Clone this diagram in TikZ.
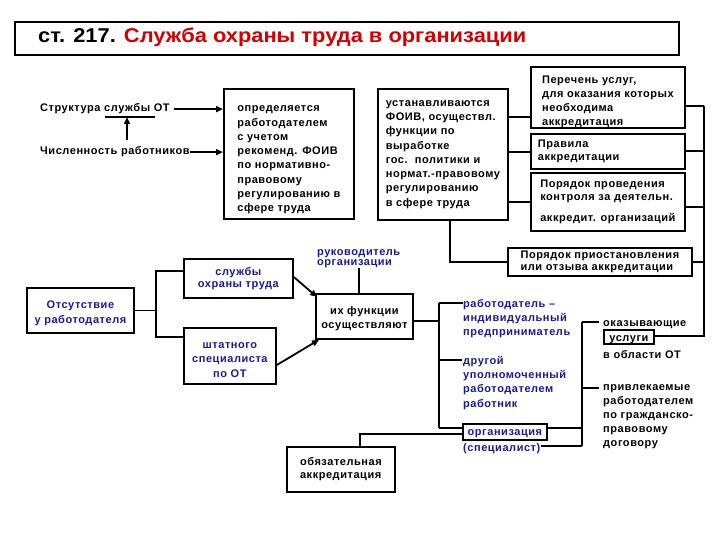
\documentclass[tikz,border=0pt]{standalone}
\usepackage{fontspec}
\setmainfont{Liberation Sans}
\newfontfamily\bodyfont{Liberation Sans}[LetterSpace=5]
\usetikzlibrary{arrows.meta,calc}
\definecolor{navy}{RGB}{25,25,150}
\definecolor{tred}{RGB}{210,0,0}
\newcommand{\pushdown}[1]{\rule{0pt}{#1}}
\tikzset{
  ln/.style={line width=1.8pt},
  arr/.style={line width=1.8pt,-{Triangle[length=7pt,width=6pt]}},
  txt/.style={font=\bodyfont\bfseries\fontsize{11}{14.3}\selectfont, inner sep=0pt, align=left},
  btxt/.style={txt, text=navy},
  box/.style={draw, line width=1.8pt, inner sep=0pt, anchor=north west,
    font=\bodyfont\bfseries\fontsize{11}{14.3}\selectfont, align=left},
}
\begin{document}
\begin{tikzpicture}[x=1pt,y=-1pt]
\useasboundingbox (0,0) rectangle (720,540);

% title
\node[draw, line width=2pt, inner sep=0pt, minimum width=664, minimum height=33, anchor=north west] (titlebox) at (14,21) {};
\node[inner sep=0pt, anchor=base west, font=\fontsize{20}{20}\selectfont\bfseries] (title) at (38,43)
  {\resizebox{488pt}{\height}{ст. 217. \textcolor{tred}{Служба охраны труда в организации}}};

% left texts
\node[txt, anchor=base west] (str) at (40,112) {Структура службы ОТ};
\node[txt, anchor=base west] (chis) at (40,155) {Численность работников};
\coordinate (ulL) at (105,117);
\coordinate (ulR) at (155,117);
\coordinate (upA) at (127,140);
\coordinate (upB) at (127,117);
\draw[ln] (ulL) -- (ulR);
\draw[arr] (upA) -- (upB);

% boxes top
\node[box, minimum width=130, minimum height=130] (b1) at (223,88)
  {\pushdown{18pt}определяется\\работодателем\\с учетом\\рекоменд. ФОИВ\\по нормативно-\\правовому\\регулированию в\\сфере труда};
\node[box, minimum width=130, minimum height=131] (b2) at (377,88)
  {устанавливаются\\ФОИВ, осуществл.\\функции по\\выработке\\гос.\ \ политики и\\нормат.-правовому\\регулированию\\в сфере труда};
\node[box, minimum width=154, minimum height=61, font=\bodyfont\bfseries\fontsize{11}{14}\selectfont] (b3) at (530,66)
  {\pushdown{16pt}Перечень услуг,\\для оказания которых\\необходима\\аккредитация};
\node[box, minimum width=154, minimum height=35, inner xsep=7pt, text width=140pt, font=\bodyfont\bfseries\fontsize{11}{12.5}\selectfont] (b4) at (530,133)
  {Правила\\аккредитации};
\node[box, minimum width=154, minimum height=58, font=\bodyfont\bfseries\fontsize{11}{13}\selectfont] (b5) at (530,172)
  {Порядок проведения\\контроля за деятельн.\\[8pt]аккредит. организаций};
\node[box, minimum width=184, minimum height=28, font=\bodyfont\bfseries\fontsize{11}{12}\selectfont] (b6) at (507,247)
  {Порядок приостановления\\или отзыва аккредитации};

\draw[arr] (str.east) ++(4,0) -- (b1.west |- str.east);
\draw[arr] (chis.east) -- (b1.west |- chis.east);

% middle boxes
\node[box, minimum width=109, minimum height=39, align=center, text=navy, font=\bodyfont\bfseries\fontsize{11}{12.5}\selectfont] (b7) at (183,258)
  {службы\\охраны труда};
\node[box, minimum width=92, minimum height=56, align=center, text=navy, font=\bodyfont\bfseries\fontsize{11}{14.5}\selectfont] (b8) at (183,327)
  {\pushdown{14pt}штатного\\специалиста\\по ОТ};
\node[box, minimum width=107, minimum height=45, align=center, text=navy, font=\bodyfont\bfseries\fontsize{11}{15}\selectfont] (b9) at (26,287)
  {\pushdown{14pt}Отсутствие\\у работодателя};
\node[box, minimum width=97, minimum height=45, align=center] (b10) at (315,293)
  {\pushdown{13pt}их функции\\осуществляют};
\node[box, minimum width=108, minimum height=45, font=\bodyfont\bfseries\fontsize{11}{13}\selectfont] (b11) at (286,446)
  {обязательная\\аккредитация};
\node[box, minimum width=84, minimum height=16, text=navy, text height=9pt, text depth=1pt] (b12) at (462,423) {организация};
\node[box, minimum width=50, minimum height=14, text height=10pt, text depth=0pt] (b13) at (603,329) {услуги};

% free texts
\node[btxt, anchor=north west, font=\bodyfont\bfseries\fontsize{11}{10.5}\selectfont] (ruk) at (317,249) {руководитель\\организации};
\node[btxt, anchor=north west] (t4) at (463,299) {работодатель –\\индивидуальный\\предприниматель};
\node[btxt, anchor=north west] (t5) at (463,356) {другой\\уполномоченный\\работодателем\\работник};
\node[btxt, anchor=base west] (t6) at (463,451) {(специалист)};
\node[txt, anchor=base west] (t7) at (603,326) {оказывающие};
\node[txt, anchor=base west] (t8) at (603,358) {в области ОТ};
\node[txt, anchor=north west, font=\bodyfont\bfseries\fontsize{11}{14}\selectfont] (t9) at (603,384) {привлекаемые\\работодателем\\по гражданско-\\правовому\\договору};

% connectors right column
\draw[ln] (b2.east |- 0,117) -- (b3.west |- 0,117);
\draw[ln] (b2.east |- 0,152) -- (b4.west |- 0,152);
\draw[ln] (b2.east |- 0,202) -- (b5.west |- 0,202);
\coordinate (rv1) at (704,106);
\coordinate (rv2) at (704,336);
\draw[ln] (b3.east |- rv1) -- (rv1);
\draw[ln] (b4.east |- 0,151) -- (704,151);
\draw[ln] (b5.east |- 0,207) -- (704,207);
\draw[ln] (b6.east) -- (b6.east -| rv1);
\draw[ln] (rv1) -- (rv2) -- (b13.east |- rv2);
\coordinate (dv) at (450,250);
\draw[ln] (b2.south -| dv) -- (b6.west -| dv) -- (b6.west);

% left tree
\coordinate (lv1) at (156,271);
\coordinate (lv2) at (156,337);
\draw[ln] (b9.east) -- (b9.east -| lv1);
\draw[ln] (b7.west |- lv1) -- (lv1) -- (lv2) -- (b8.west |- lv2);
\draw[arr] (b7.east |- 0,277) -- ($(b10.north west)+(2,4)$);
\draw[arr] (b8.east |- 0,365) -- ($(b10.south west)+(4,0)$);
\coordinate (rk) at (359,268);
\draw[ln] (rk) -- (rk |- b10.north);

% mid tree
\coordinate (mv1) at (439,303);
\coordinate (mv2) at (439,428);
\draw[ln] (b10.east |- 0,321) -- (439,321);
\draw[ln] (mv1) -- (mv2);
\draw[ln] (mv1) -- (t4.west |- mv1);
\draw[ln] (439,360) -- (462,360);
\draw[ln] (mv2) -- (b12.west |- mv2);
\draw[ln] (b12.west |- 0,434) -- (360,434) -- (b11.north -| 360,0);

% right tree
\coordinate (sv1) at (582,322);
\coordinate (sv2) at (582,446);
\draw[ln] (b12.east |- 0,428) -- (582,428);
\draw[ln] (t6.east |- sv2) -- (sv2);
\draw[ln] (sv1) -- (sv2);
\draw[ln] (sv1) -- (599,322);
\draw[ln] (582,388) -- (599,388);
\end{tikzpicture}
\end{document}
